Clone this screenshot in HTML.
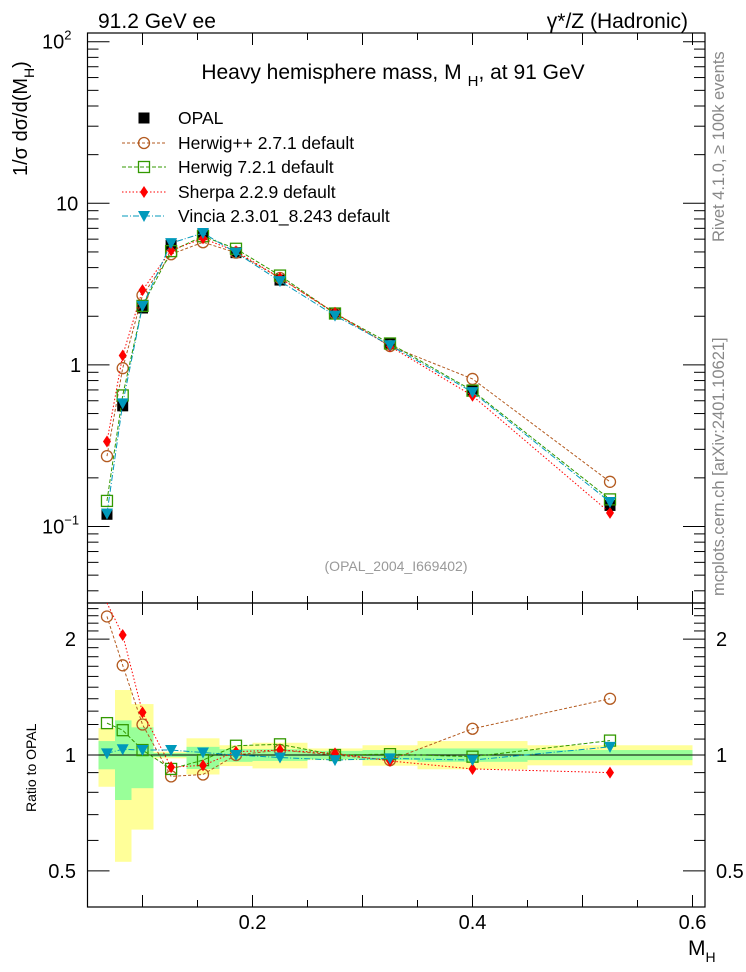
<!DOCTYPE html>
<html><head><meta charset="utf-8"><style>
body{margin:0;background:#fff;}
svg{display:block;font-family:"Liberation Sans",sans-serif;}
</style></head><body>
<svg id="c" width="746" height="972" xmlns="http://www.w3.org/2000/svg">
<text x="98" y="28" font-size="21">91.2 GeV ee</text>
<text x="688" y="28" font-size="21" text-anchor="end">γ*/Z (Hadronic)</text>
<text x="393" y="79" font-size="21" text-anchor="middle">Heavy hemisphere mass, M<tspan font-size="15" dx="6" dy="7">H</tspan><tspan dy="-7">, at 91 GeV</tspan></text>
<text transform="translate(27,176) rotate(-90)" font-size="20">1/σ  dσ/d(M<tspan font-size="14" dy="7">H</tspan><tspan dy="-7">)</tspan></text>
<text transform="translate(36,812) rotate(-90)" font-size="14">Ratio to OPAL</text>
<text x="688" y="955" font-size="21">M<tspan font-size="14" dy="7">H</tspan></text>
<text transform="translate(724,242) rotate(-90)" font-size="16.5" fill="#888">Rivet 4.1.0, ≥ 100k events</text>
<text transform="translate(724,596) rotate(-90)" font-size="16.5" fill="#888">mcplots.cern.ch [arXiv:2401.10621]</text>
<text x="396" y="571" font-size="14" fill="#999" text-anchor="middle">(OPAL_2004_I669402)</text>
<g id="bands"></g><g id="axes"></g><g id="series"></g><g id="legend"></g>
</svg>
<script>
const binLo=[0.06,0.075,0.09,0.11,0.14,0.17,0.2,0.25,0.3,0.35,0.45];
const binHi=[0.075,0.09,0.11,0.14,0.17,0.2,0.25,0.3,0.35,0.45,0.6];
const xVals=[0.0677,0.082,0.1,0.126,0.155,0.185,0.225,0.275,0.325,0.4,0.525];
const opal=[0.119,0.558,2.25,5.5,6.45,4.95,3.35,2.08,1.35,0.70,0.135];
const ratioHerwigpp=[2.29,1.71,1.2,0.88,0.89,1.0,1.03,1.0,0.97,1.17,1.40];
const ratioHerwig7=[1.21,1.16,1.03,0.92,0.97,1.057,1.066,1.0,1.005,0.99,1.09];
const ratioSherpa=[2.82,2.05,1.29,0.93,0.94,1.02,1.03,1.01,0.965,0.92,0.90];
const ratioVincia=[1.01,1.035,1.03,1.03,1.015,1.0,0.985,0.97,0.98,0.97,1.05];
const yellowHi=[1.175,1.475,1.356,1.02,1.105,1.06,1.076,1.04,1.06,1.087,1.06];
const yellowLo=[0.827,0.528,0.64,0.98,0.89,0.936,0.923,0.97,0.938,0.918,0.94];
const greenHi=[1.087,1.23,1.18,1.012,1.05,1.035,1.035,1.025,1.03,1.04,1.03];
const greenLo=[0.918,0.764,0.82,0.988,0.92,0.96,0.965,0.975,0.97,0.96,0.97];
const xTicks=[0.2,0.4,0.6];
const mainTicks=[100,10,1,0.1];
const ratioTicks=[2,1,0.5];

const NS="http://www.w3.org/2000/svg";
const L=87.5,R=705,T=33,MB=603,RB=907;
const X=v=>L+(v-0.05)*1100;
const YM=v=>41.7+(2-Math.log10(v))*161.6;
const YR=v=>755-Math.log10(v)*385;
function mk(tag,attrs,parent){const e=document.createElementNS(NS,tag);for(const k in attrs)e.setAttribute(k,attrs[k]);document.getElementById(parent).appendChild(e);return e;}

for(let i=0;i<binLo.length;i++){
  let e=mk('rect',{x:X(binLo[i]),y:YR(yellowHi[i]),width:X(binHi[i])-X(binLo[i]),height:YR(yellowLo[i])-YR(yellowHi[i]),fill:'#ffff99'},'bands');
  
  
  e=mk('rect',{x:X(binLo[i]),y:YR(greenHi[i]),width:X(binHi[i])-X(binLo[i]),height:YR(greenLo[i])-YR(greenHi[i]),fill:'#99ff99'},'bands');
  
  
}
let f=mk('rect',{x:L,y:T,width:R-L,height:MB-T,fill:'none',stroke:'#000','stroke-width':1.2},'axes');


f=mk('rect',{x:L,y:MB,width:R-L,height:RB-MB,fill:'none',stroke:'#000','stroke-width':1.2},'axes');


let ln=mk('line',{x1:L,x2:R,y1:YR(1),y2:YR(1),stroke:'#000','stroke-width':1},'axes');


for(let v=0.05;v<=0.61;v+=0.05){
  const big=Math.abs(v*10-Math.round(v*10))<1e-6;const len=big?12:7;
  for(const [y0,d] of [[MB,-1],[RB,-1],[T,1],[MB,1]]){
    mk('line',{x1:X(v),x2:X(v),y1:y0,y2:y0+d*len,stroke:'#000'},'axes');
  }
}
xTicks.forEach(v=>{const t=mk('text',{x:X(v),y:929,'font-size':20,'text-anchor':'middle'},'axes');t.textContent=v.toFixed(1);
  
  });
for(let d=-2;d<=2;d++){for(let m=1;m<=9;m++){const v=m*Math.pow(10,d);const y=YM(v);if(y<T||y>MB)continue;const len=m==1?22:11;
  mk('line',{x1:L,x2:L+len,y1:y,y2:y,stroke:'#000'},'axes');mk('line',{x1:R,x2:R-len,y1:y,y2:y,stroke:'#000'},'axes');}}
const mainLbl=['10<tspan font-size="13" dy="-9">2</tspan>','10','1','10<tspan font-size="13" dy="-9">−1</tspan>'];
mainTicks.forEach((v,i)=>{const t=mk('text',{x:v==1?70:(v==10?56:42),y:YM(v)+7,'font-size':20},'axes');t.innerHTML=mainLbl[i];
  
  });
for(let k=4;k<=25;k++){const v=k/10;const y=YR(v);if(y<MB||y>RB)continue;const big=(k==5||k==10||k==20);const len=big?22:11;
  mk('line',{x1:L,x2:L+len,y1:y,y2:y,stroke:'#000'},'axes');mk('line',{x1:R,x2:R-len,y1:y,y2:y,stroke:'#000'},'axes');}
ratioTicks.forEach(v=>{for(const xx of [[76,'end'],[716,'start']]){const t=mk('text',{x:xx[0],y:YR(v)+7,'font-size':20,'text-anchor':xx[1]},'axes');t.textContent=String(v);
  
  }});

const series=[
 {name:'herwigpp',r:ratioHerwigpp,col:'#b35a1f',dash:'3,2',mark:'circle'},
 {name:'herwig7',r:ratioHerwig7,col:'#339900',dash:'4,2',mark:'square'},
 {name:'sherpa',r:ratioSherpa,col:'#ff0000',dash:'1.5,2',mark:'diamond'},
 {name:'vincia',r:ratioVincia,col:'#0099bb',dash:'6,2,1,2',mark:'tri'}];
function marker(type,x,y,col,g){
  let e;
  if(type=='circle')e=mk('circle',{cx:x,cy:y,r:5.5,fill:'none',stroke:col,'stroke-width':1.3},g);
  else if(type=='square')e=mk('rect',{x:x-5.5,y:y-5.5,width:11,height:11,fill:'none',stroke:col,'stroke-width':1.3},g);
  else if(type=='diamond')e=mk('path',{d:`M${x},${y-6}L${x+4},${y}L${x},${y+6}L${x-4},${y}Z`,fill:col},g);
  else if(type=='tri')e=mk('path',{d:`M${x-6},${y-5}L${x+6},${y-5}L${x},${y+6}Z`,fill:col},g);
  else e=mk('rect',{x:x-5.5,y:y-5.5,width:11,height:11,fill:col},g);
  return e;
}
xVals.forEach((xv,i)=>{
  const e=marker('sq',X(xv),YM(opal[i]),'#000','series');
  
  
});
series.forEach(s=>{
  const vals=opal.map((o,i)=>o*s.r[i]);
  let p=mk('polyline',{points:xVals.map((xv,i)=>X(xv)+','+YM(vals[i])).join(' '),fill:'none',stroke:s.col,'stroke-dasharray':s.dash,'stroke-width':1},'series');
  
  
  p=mk('polyline',{points:xVals.map((xv,i)=>X(xv)+','+Math.max(MB,YR(s.r[i]))).join(' '),fill:'none',stroke:s.col,'stroke-dasharray':s.dash,'stroke-width':1},'series');
  
  
  xVals.forEach((xv,i)=>{
    let m=marker(s.mark,X(xv),YM(vals[i]),s.col,'series');
    
    
    if(YR(s.r[i])>MB+4){m=marker(s.mark,X(xv),YR(s.r[i]),s.col,'series');
    
    }
  });
});
const legNames=['OPAL','Herwig++ 2.7.1 default','Herwig 7.2.1 default','Sherpa 2.2.9 default','Vincia 2.3.01_8.243 default'];
const legY=[118,143,167,192,216];
legNames.forEach((n,i)=>{
  const y=legY[i];
  if(i>0){const s=series[i-1];mk('line',{x1:122,x2:166,y1:y,y2:y,stroke:s.col,'stroke-dasharray':s.dash},'legend');
    const m=marker(s.mark,144,y,s.col,'legend');
    
    }
  else{const m=marker('sq',144,y,'#000','legend');
    
    }
  const t=mk('text',{x:178,y:y+6,'font-size':17.5},'legend');t.textContent=n;
  
  
});
</script>
</body></html>
